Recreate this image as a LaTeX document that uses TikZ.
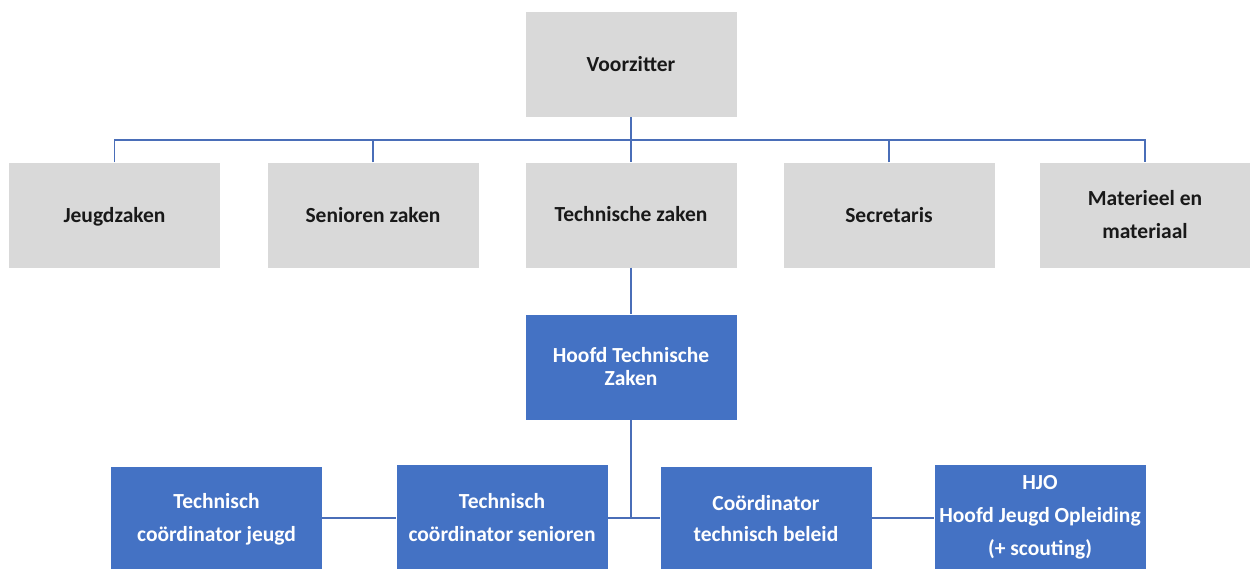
\documentclass[tikz,border=0pt]{standalone}
\usepackage{fontspec}
\setmainfont{Carlito}
\definecolor{boxgray}{HTML}{D9D9D9}
\definecolor{boxblue}{HTML}{4472C4}
\definecolor{linkblue}{HTML}{4A6EB8}
\begin{document}
\begin{tikzpicture}[x=1pt,y=-1pt,
  graybox/.style={fill=boxgray, draw=none, minimum width=211pt, minimum height=105pt, align=center, text=black!90, font=\fontsize{21.5}{33}\selectfont\bfseries},
  bluebox/.style={fill=boxblue, draw=none, minimum width=211pt, minimum height=105pt, align=center, text=white, font=\fontsize{21.5}{33}\selectfont\bfseries},
  link/.style={draw=linkblue, line width=1.8pt}]
\useasboundingbox (0,0) rectangle (1250,568);
\clip (0,0) rectangle (1250,568);
\node[graybox] (v) at (631,64.5) {Voorzitter};
\node[graybox, text depth=2pt, text height=16pt] (j) at (114.5,215) {Jeugdzaken};
\node[graybox] (s) at (373,215) {Senioren zaken};
\node[graybox] (t) at (631,215) {\raisebox{2pt}{Technische zaken}};
\node[graybox] (sec) at (889,215) {Secretaris};
\node[graybox] (m) at (1145,215) {Materieel en\\materiaal};
\node[bluebox, font=\fontsize{21.5}{23}\selectfont\bfseries] (h) at (631,367) {Hoofd Technische\\Zaken};
\node[bluebox] (cj) at (216.5,519.5) {Technisch\\coördinator jeugd};
\node[bluebox] (cs) at (502,517.5) {Technisch\\coördinator senioren};
\node[bluebox] (cb) at (766,519.5) {Coördinator\\\raisebox{2pt}{technisch beleid}};
\node[bluebox] (hjo) at (1040,517.5) {HJO\\Hoofd Jeugd Opleiding\\(+ scouting)};
\coordinate (bus) at (631,140);
\coordinate (mid) at (631,518);
\draw[link] (v.south) -- (t.north);
\draw[link] (j.north) |- (bus) -| (m.north);
\draw[link] (s.north) -- (s.north |- bus);
\draw[link] (sec.north) -- (sec.north |- bus);
\draw[link] (t.south) -- (h.north);
\draw[link] (h.south) -- (mid);
\draw[link] (cs.east |- mid) -- (cb.west |- mid);
\draw[link] (cj.east |- mid) -- (cs.west |- mid);
\draw[link] (cb.east |- mid) -- (hjo.west |- mid);
\end{tikzpicture}
\end{document}
